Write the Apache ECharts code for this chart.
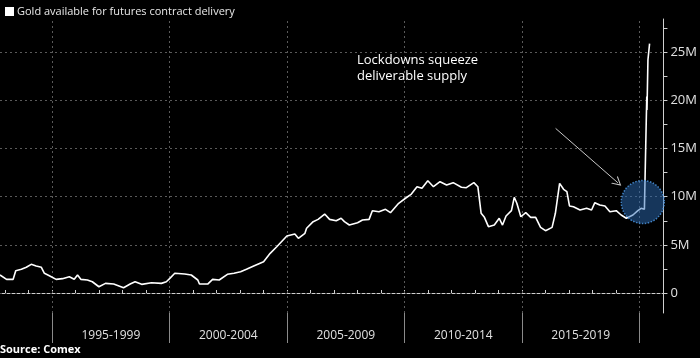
<!DOCTYPE html>
<html>
<head>
<meta charset="utf-8">
<script src="https://cdn.jsdelivr.net/npm/echarts@6/dist/echarts.min.js"></script>
<style>
html,body{margin:0;padding:0;background:#000;}
#chart{width:700px;height:358px;}
</style>
</head>
<body>
<div id="chart"></div>
<script>
// ---- data (values in millions of ounces) ----
const seriesName = 'Gold available for futures contract delivery';
const years = [
  1992.78,1993.06,1993.34,1993.45,1993.69,1993.90,1994.11,1994.32,1994.54,1994.67,1994.88,
  1995.17,1995.44,1995.73,1995.94,1996.08,1996.22,1996.50,1996.71,1996.99,1997.27,1997.62,
  1998.04,1998.32,1998.53,1998.81,1999.23,1999.65,1999.86,2000.01,2000.22,2000.64,2000.92,
  2001.20,2001.27,2001.62,2001.83,2002.11,2002.46,2002.74,2003.02,2003.27,2003.58,2004.00,
  2004.28,2004.56,2004.99,2005.33,2005.48,2005.76,2005.83,2006.11,2006.32,2006.60,2006.81,
  2007.09,2007.30,2007.44,2007.65,2008.00,2008.21,2008.49,2008.63,2008.91,2009.19,2009.40,
  2009.75,2010.04,2010.29,2010.53,2010.74,2010.99,2011.23,2011.51,2011.79,2012.07,2012.42,
  2012.63,2012.95,2013.12,2013.26,2013.40,2013.57,2013.82,2014.03,2014.17,2014.32,2014.55,
  2014.67,2014.78,2014.95,2015.16,2015.37,2015.58,2015.79,2016.00,2016.28,2016.42,2016.60,
  2016.77,2016.91,2017.02,2017.19,2017.47,2017.75,2017.96,2018.10,2018.31,2018.53,2018.74,
  2019.01,2019.22,2019.44,2019.72,2019.93,2020.07,2020.21,2020.28,2020.31,2020.32,2020.36,
  2020.43
];
const values = [
  1.87,1.42,1.42,2.32,2.46,2.67,2.98,2.80,2.67,2.05,1.80,
  1.42,1.49,1.69,1.42,1.87,1.42,1.35,1.17,0.65,1.00,0.93,
  0.55,0.93,1.17,0.90,1.07,1.00,1.17,1.52,2.05,1.97,1.87,
  1.35,0.93,0.93,1.42,1.35,1.94,2.05,2.21,2.46,2.80,3.25,
  4.12,4.81,5.92,6.13,5.68,6.20,6.72,7.41,7.65,8.20,7.65,
  7.51,7.76,7.41,7.06,7.30,7.58,7.65,8.55,8.44,8.69,8.34,
  9.32,9.84,10.28,11.04,10.87,11.66,11.04,11.56,11.22,11.46,10.98,
  10.94,11.46,11.04,8.28,7.86,6.89,7.06,7.76,7.06,8.00,8.55,
  9.94,9.32,7.92,8.34,7.86,7.86,6.82,6.47,6.82,8.28,11.39,
  10.77,10.52,9.04,8.96,8.62,8.80,8.62,9.38,9.14,9.04,8.44,
  8.55,8.10,7.76,8.10,8.55,8.80,8.69,8.69,20.4,19.0,24.2,
  25.9
];
const periodStarts = [1995, 2000, 2005, 2010, 2015, 2020];
const periodLabels = ['1995-1999', '2000-2004', '2005-2009', '2010-2014', '2015-2019'];
const yTickValues = [0, 5, 10, 15, 20, 25];
const yMinorValues = [0, 2.5, 5, 7.5, 10, 12.5, 15, 17.5, 20, 22.5, 25, 27.5];
const yearTicks = [1993,1994,1995,1996,1997,1998,1999,2000,2001,2002,2003,2004,2005,2006,2007,2008,2009,2010,2011,2012,2013,2014,2015,2016,2017,2018,2019,2020,2021];
const annotationText = 'Lockdowns squeeze\ndeliverable supply';
const highlight = [2020.14, 9.45];
const arrowFrom = [2016.43, 17.1];
const arrowTo = [2019.08, 11.45];

const X_MIN = 1992.78, X_MAX = 2021.02;
const Y_MIN = -2.077, Y_MAX = 28.46;

const FONT = 'Open Sans';
const chart = echarts.init(document.getElementById('chart'), null, {renderer: 'canvas'});

const labelCenters = periodLabels.map((_, i) => periodStarts[i] + 2.5);
const gridMarks = yTickValues.map(v => ({yAxis: v})).concat(periodStarts.map(v => ({xAxis: v})));

chart.setOption({
  backgroundColor: '#000',
  animation: false,
  textStyle: {fontFamily: FONT},
  legend: {
    show: true, left: 0, top: 1, itemWidth: 9, itemHeight: 9, itemGap: 4,
    icon: 'rect', data: [seriesName],
    textStyle: {color: '#e8e8e8', fontSize: 11, fontFamily: FONT, padding: [0,0,0,-2]}
  },
  grid: {left: 0, right: 29, top: 19, bottom: 45, containLabel: false},
  xAxis: [
    {
      type: 'value', min: X_MIN, max: X_MAX, position: 'bottom',
      axisLine: {show: true, lineStyle: {color: '#cfcfcf', width: 1}},
      axisTick: {show: true, inside: true, length: 3, customValues: yearTicks, lineStyle: {color: '#cfcfcf'}},
      axisLabel: {show: false},
      splitLine: {show: false}
    },
    {
      type: 'value', min: X_MIN, max: X_MAX, position: 'bottom',
      axisLine: {show: false},
      axisTick: {show: true, inside: false, length: 30, customValues: periodStarts, lineStyle: {color: '#8a8a8a'}},
      axisLabel: {
        show: true, customValues: labelCenters, margin: 17, color: '#e0e0e0', fontSize: 12, fontFamily: FONT,
        formatter: v => { const i = labelCenters.findIndex(c => Math.abs(c - v) < 0.01); return i >= 0 ? periodLabels[i] : ''; }
      },
      splitLine: {show: false}
    }
  ],
  yAxis: {
    type: 'value', min: Y_MIN, max: Y_MAX, position: 'right',
    axisLine: {show: true, lineStyle: {color: '#cfcfcf', width: 1}},
    axisTick: {show: true, inside: false, length: 4, customValues: yMinorValues, lineStyle: {color: '#cfcfcf'}},
    axisLabel: {
      show: true, customValues: yTickValues, margin: 7, color: '#e0e0e0', fontSize: 13, fontFamily: FONT,
      formatter: v => (v === 0 ? '0' : v + 'M')
    },
    splitLine: {show: false}
  },
  series: [
    {
      name: seriesName, type: 'line', z: 3,
      data: years.map((y, i) => [y, values[i]]),
      showSymbol: false, symbol: 'none',
      lineStyle: {color: '#ffffff', width: 1.6},
      itemStyle: {color: '#ffffff'},
      markLine: {
        silent: true, symbol: ['none', 'none'], label: {show: false}, z: 1,
        lineStyle: {color: '#5a5a5a', type: [2, 3], width: 1},
        emphasis: {disabled: true},
        data: gridMarks
      }
    },
    {
      name: 'highlight', type: 'scatter', z: 5, silent: true,
      data: [highlight],
      symbol: 'circle', symbolSize: 43,
      itemStyle: {color: 'rgba(45,110,185,0.62)', borderColor: '#4f9be8', borderWidth: 1.5, borderType: 'dotted'},
      markLine: {
        silent: true, label: {show: false},
        lineStyle: {color: '#c8c8c8', type: 'solid', width: 1},
        symbol: ['none', 'path://M5,0 L10,10 L8.8,10 L5,2.4 L1.2,10 L0,10 Z'],
        symbolSize: [10, 9],
        data: [[{coord: arrowFrom}, {coord: arrowTo}]]
      }
    }
  ],
  graphic: [
    {
      type: 'text', left: 357, top: 52, silent: true,
      style: {text: annotationText, fill: '#ffffff', fontSize: 13, lineHeight: 16, fontFamily: FONT}
    },
    {
      type: 'text', left: 0, top: 344, silent: true,
      style: {text: 'Source: Comex', fill: '#ffffff', fontSize: 11, fontWeight: 'bold', fontFamily: FONT}
    }
  ]
});
</script>
</body>
</html>
